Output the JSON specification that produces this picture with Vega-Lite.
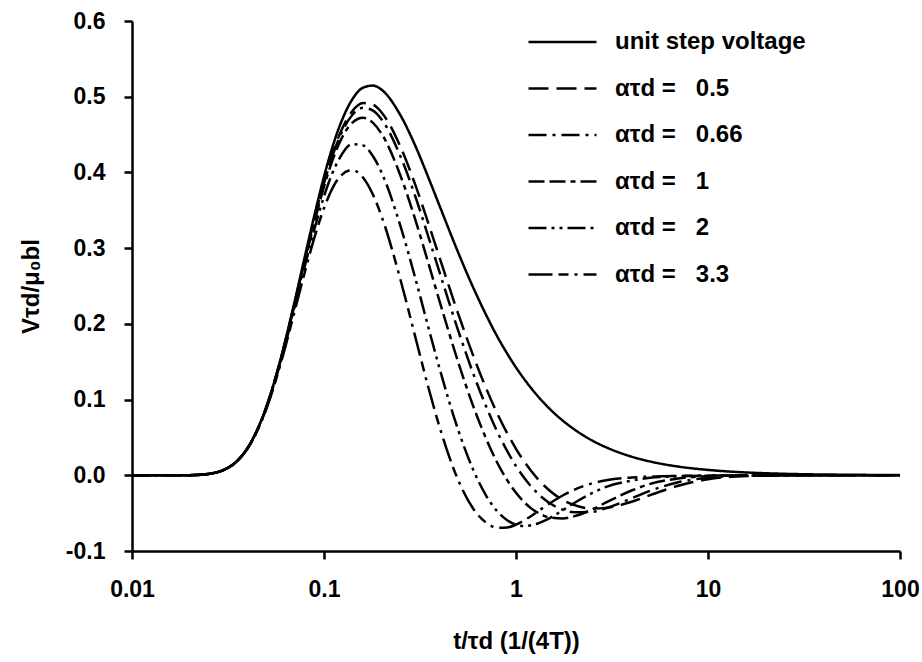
{
  "$schema": "https://vega.github.io/schema/vega-lite/v6.json",
  "width": 768,
  "height": 530,
  "autosize": {"type": "none"},
  "padding": {"left": 132, "top": 21, "right": 22, "bottom": 111},
  "background": "white",
  "config": {
    "view": {"stroke": null},
    "font": "Liberation Sans",
    "axis": {
      "domainColor": "black", "domainWidth": 2.5, "tickColor": "black", "tickWidth": 2.5, "tickSize": 8,
      "labelFont": "Liberation Sans", "labelFontWeight": "bold", "labelFontSize": 23, "labelColor": "black",
      "titleFont": "Liberation Sans", "titleFontWeight": "bold", "titleFontSize": 24, "titleColor": "black",
      "grid": false
    }
  },
  "data": {
    "values": [
      {"t": 0.01, "step": 0, "a05": 0, "a066": 0, "a1": 0, "a2": 0, "a33": 0},
      {"t": 0.02, "step": 0.0002, "a05": 0.0002, "a066": 0.0002, "a1": 0.0002, "a2": 0.0002, "a33": 0.0002},
      {"t": 0.025, "step": 0.0018, "a05": 0.0018, "a066": 0.0018, "a1": 0.0018, "a2": 0.0018, "a33": 0.0018},
      {"t": 0.03, "step": 0.0070, "a05": 0.0070, "a066": 0.0070, "a1": 0.0070, "a2": 0.0069, "a33": 0.0069},
      {"t": 0.035, "step": 0.0181, "a05": 0.0181, "a066": 0.0181, "a1": 0.0180, "a2": 0.0179, "a33": 0.0178},
      {"t": 0.04, "step": 0.0361, "a05": 0.0360, "a066": 0.0360, "a1": 0.0358, "a2": 0.0356, "a33": 0.0353},
      {"t": 0.05, "step": 0.0899, "a05": 0.0895, "a066": 0.0893, "a1": 0.0890, "a2": 0.0882, "a33": 0.0870},
      {"t": 0.06, "step": 0.1576, "a05": 0.1565, "a066": 0.1562, "a1": 0.1555, "a2": 0.1534, "a33": 0.1508},
      {"t": 0.07, "step": 0.2275, "a05": 0.2255, "a066": 0.2249, "a1": 0.2235, "a2": 0.2196, "a33": 0.2147},
      {"t": 0.08, "step": 0.2920, "a05": 0.2887, "a066": 0.2877, "a1": 0.2855, "a2": 0.2791, "a33": 0.2711},
      {"t": 0.09, "step": 0.3480, "a05": 0.3431, "a066": 0.3416, "a1": 0.3383, "a2": 0.3290, "a33": 0.3174},
      {"t": 0.1, "step": 0.3945, "a05": 0.3878, "a066": 0.3857, "a1": 0.3812, "a2": 0.3685, "a33": 0.3528},
      {"t": 0.12, "step": 0.4597, "a05": 0.4488, "a066": 0.4454, "a1": 0.4382, "a2": 0.4180, "a33": 0.3933},
      {"t": 0.14, "step": 0.4960, "a05": 0.4805, "a066": 0.4756, "a1": 0.4655, "a2": 0.4372, "a33": 0.4033},
      {"t": 0.16, "step": 0.5120, "a05": 0.4916, "a066": 0.4853, "a1": 0.4721, "a2": 0.4357, "a33": 0.3930},
      {"t": 0.18, "step": 0.5147, "a05": 0.4894, "a066": 0.4816, "a1": 0.4654, "a2": 0.4213, "a33": 0.3705},
      {"t": 0.2, "step": 0.5090, "a05": 0.4789, "a066": 0.4696, "a1": 0.4506, "a2": 0.3992, "a33": 0.3413},
      {"t": 0.25, "step": 0.4756, "a05": 0.4340, "a066": 0.4215, "a1": 0.3960, "a2": 0.3294, "a33": 0.2586},
      {"t": 0.3, "step": 0.4343, "a05": 0.3825, "a066": 0.3672, "a1": 0.3364, "a2": 0.2588, "a33": 0.1812},
      {"t": 0.35, "step": 0.3930, "a05": 0.3323, "a066": 0.3147, "a1": 0.2798, "a2": 0.1949, "a33": 0.1156},
      {"t": 0.4, "step": 0.3558, "a05": 0.2874, "a066": 0.2679, "a1": 0.2298, "a2": 0.1410, "a33": 0.0637},
      {"t": 0.5, "step": 0.2942, "a05": 0.2133, "a066": 0.1912, "a1": 0.1494, "a2": 0.0598, "a33": -0.0065},
      {"t": 0.6, "step": 0.2474, "a05": 0.1573, "a066": 0.1337, "a1": 0.0907, "a2": 0.0066, "a33": -0.0445},
      {"t": 0.7, "step": 0.2114, "a05": 0.1145, "a066": 0.0904, "a1": 0.0479, "a2": -0.0271, "a33": -0.0627},
      {"t": 0.8, "step": 0.1830, "a05": 0.0812, "a066": 0.0571, "a1": 0.0163, "a2": -0.0479, "a33": -0.0693},
      {"t": 0.9, "step": 0.1607, "a05": 0.0555, "a066": 0.0319, "a1": -0.0064, "a2": -0.0594, "a33": -0.0689},
      {"t": 1.0, "step": 0.1424, "a05": 0.0350, "a066": 0.0122, "a1": -0.0232, "a2": -0.0652, "a33": -0.0652},
      {"t": 1.1, "step": 0.1275, "a05": 0.0187, "a066": -0.0030, "a1": -0.0352, "a2": -0.0669, "a33": -0.0597},
      {"t": 1.2, "step": 0.1150, "a05": 0.0056, "a066": -0.0149, "a1": -0.0437, "a2": -0.0661, "a33": -0.0537},
      {"t": 1.3, "step": 0.1044, "a05": -0.0050, "a066": -0.0242, "a1": -0.0496, "a2": -0.0637, "a33": -0.0477},
      {"t": 1.4, "step": 0.0954, "a05": -0.0135, "a066": -0.0314, "a1": -0.0535, "a2": -0.0603, "a33": -0.0421},
      {"t": 1.5, "step": 0.0876, "a05": -0.0205, "a066": -0.0369, "a1": -0.0558, "a2": -0.0565, "a33": -0.0370},
      {"t": 1.75, "step": 0.0723, "a05": -0.0325, "a066": -0.0454, "a1": -0.0570, "a2": -0.0463, "a33": -0.0267},
      {"t": 2, "step": 0.0611, "a05": -0.0391, "a066": -0.0488, "a1": -0.0543, "a2": -0.0369, "a33": -0.0193},
      {"t": 2.5, "step": 0.0457, "a05": -0.0440, "a066": -0.0482, "a1": -0.0450, "a2": -0.0233, "a33": -0.0105},
      {"t": 3, "step": 0.0361, "a05": -0.0427, "a066": -0.0428, "a1": -0.0349, "a2": -0.0146, "a33": -0.0063},
      {"t": 4, "step": 0.0246, "a05": -0.0350, "a066": -0.0305, "a1": -0.0201, "a2": -0.0070, "a33": -0.0030},
      {"t": 5, "step": 0.0182, "a05": -0.0262, "a066": -0.0205, "a1": -0.0114, "a2": -0.0034, "a33": -0.0017},
      {"t": 7, "step": 0.0115, "a05": -0.0139, "a066": -0.0092, "a1": -0.0042, "a2": -0.0014, "a33": -0.0008},
      {"t": 10, "step": 0.0071, "a05": -0.0052, "a066": -0.0032, "a1": -0.0013, "a2": -0.0005, "a33": -0.0003},
      {"t": 15, "step": 0.0040, "a05": -0.0012, "a066": -0.0007, "a1": -0.0004, "a2": -0.0002, "a33": -0.0001},
      {"t": 20, "step": 0.0027, "a05": -0.0005, "a066": -0.0004, "a1": -0.0002, "a2": -0.0001, "a33": 0},
      {"t": 30, "step": 0.0015, "a05": -0.0001, "a066": -0.0001, "a1": 0, "a2": 0, "a33": 0},
      {"t": 50, "step": 0.0008, "a05": 0, "a066": 0, "a1": 0, "a2": 0, "a33": 0},
      {"t": 100, "step": 0.0003, "a05": 0, "a066": 0, "a1": 0, "a2": 0, "a33": 0}
    ]
  },
  "transform": [
    {"fold": ["step", "a05", "a066", "a1", "a2", "a33"], "as": ["series", "v"]}
  ],
  "mark": {"type": "line", "color": "black", "strokeWidth": 2.5, "interpolate": "monotone", "clip": true},
  "encoding": {
    "x": {
      "field": "t", "type": "quantitative",
      "scale": {"type": "log", "domain": [0.01, 100], "nice": false},
      "axis": {"values": [0.01, 0.1, 1, 10, 100], "format": "~g", "labelPadding": 19, "titlePadding": 28, "labelFlush": false},
      "title": "t/τd (1/(4T))"
    },
    "y": {
      "field": "v", "type": "quantitative",
      "scale": {"domain": [-0.1, 0.6], "nice": false, "zero": false},
      "axis": {"values": [-0.1, 0, 0.1, 0.2, 0.3, 0.4, 0.5, 0.6], "labelExpr": "replace(format(datum.value, '.1f'), '\u2212', '-')", "labelPadding": 19, "titlePadding": 22},
      "title": "Vτd/μ₀bl"
    },
    "strokeDash": {
      "field": "series", "type": "nominal",
      "scale": {
        "domain": ["step", "a05", "a066", "a1", "a2", "a33"],
        "range": [[1, 0], [20, 8], [18, 6, 3, 6], [16, 5, 16, 5, 5, 5], [18, 5, 3, 5, 3, 5], [24, 6, 10, 6, 3, 6]]
      },
      "legend": {
        "title": null,
        "orient": "none",
        "legendX": 395,
        "legendY": 9,
        "padding": 0,
        "symbolType": "stroke",
        "symbolSize": 4624,
        "symbolStrokeWidth": 2.5,
        "symbolStrokeColor": "black",
        "clipHeight": 24,
        "rowPadding": 22.5,
        "labelOffset": 17,
        "labelFont": "Liberation Sans",
        "labelFontWeight": "bold",
        "labelFontSize": 24,
        "labelColor": "black",
        "labelLimit": 0,
        "labelExpr": "datum.label == 'step' ? 'unit step voltage' : datum.label == 'a05' ? 'ατd =\u00a0\u00a0 0.5' : datum.label == 'a066' ? 'ατd =\u00a0\u00a0 0.66' : datum.label == 'a1' ? 'ατd =\u00a0\u00a0 1' : datum.label == 'a2' ? 'ατd =\u00a0\u00a0 2' : 'ατd =\u00a0\u00a0 3.3'"
      }
    }
  }
}
